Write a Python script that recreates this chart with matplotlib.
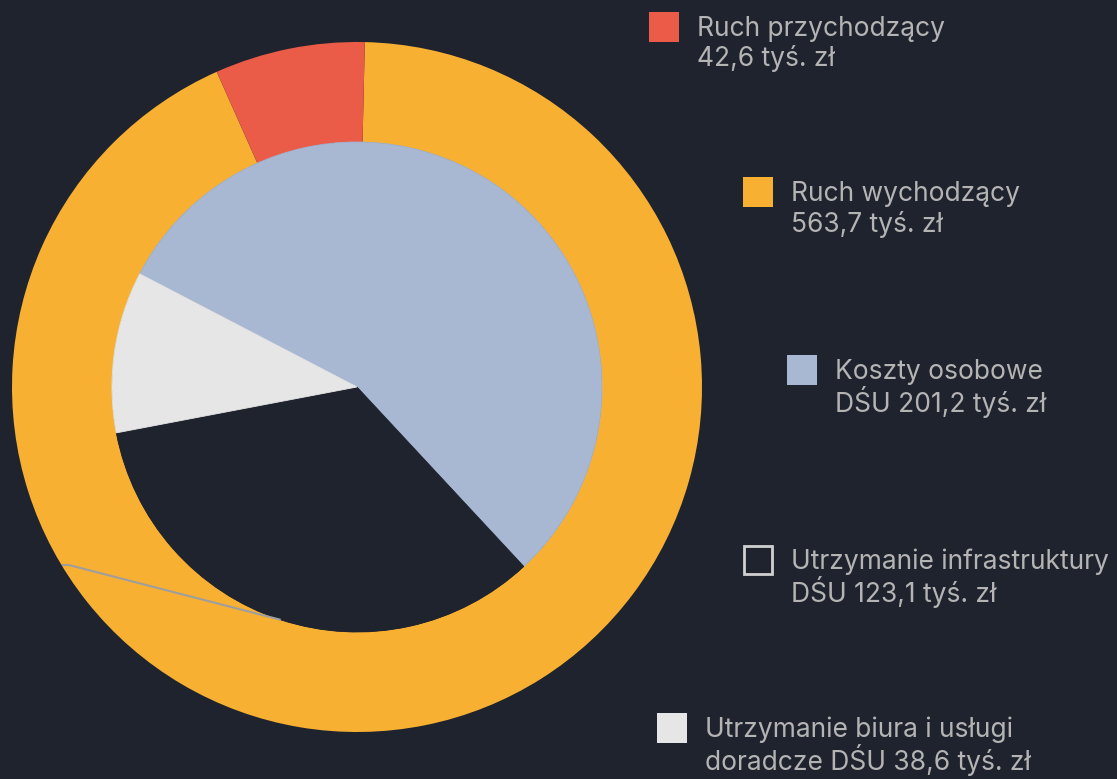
import numpy as np
import matplotlib.pyplot as plt
from matplotlib.patches import Rectangle

# dane
outer_labels = ["Ruch przychodzący", "Ruch wychodzący"]
outer_values = [42.6, 563.7]
inner_labels = ["Koszty osobowe DŚU", "Utrzymanie infrastruktury DŚU", "Utrzymanie biura i usługi doradcze DŚU"]
inner_values = [201.2, 123.1, 38.6]

legend_lines = [
    ("Ruch przychodzący", "42,6 tyś. zł"),
    ("Ruch wychodzący", "563,7 tyś. zł"),
    ("Koszty osobowe", "DŚU 201,2 tyś. zł"),
    ("Utrzymanie infrastruktury", "DŚU 123,1 tyś. zł"),
    ("Utrzymanie biura i usługi", "doradcze DŚU 38,6 tyś. zł"),
]

bg = "#1f232e"
red, orange, blue, grey = "#ea5b48", "#f7b032", "#a8b8d3", "#e6e6e6"
txt = "#b4b4b4"

plt.rcParams['font.family'] = ['Inter', 'DejaVu Sans']

W, H = 1117, 779
fig = plt.figure(figsize=(W / 100, H / 100), dpi=100, facecolor=bg)
# os kołowa: srodek (357, 387) px, promien 345 px
cx, cy, R = 357, 387, 345
ax = fig.add_axes([(cx - R) / W, (H - cy - R) / H, 2 * R / W, 2 * R / H])
ax.set_facecolor(bg)

r_in = 245 / 345

# pierścień zewnętrzny (zgodnie z ruchem wskazówek)
ax.pie(outer_values[::-1], colors=[orange, red], radius=1, startangle=88.7,
       counterclock=False, wedgeprops=dict(width=1 - r_in, linewidth=0))

# koło wewnętrzne
wedges, _ = ax.pie(inner_values, colors=[blue, bg, grey], radius=r_in,
                   startangle=152.5, counterclock=False,
                   wedgeprops=dict(linewidth=0.6))
for w in wedges:
    w.set_edgecolor(w.get_facecolor())

# linia etykiety (ukryta etykieta) dla "Utrzymanie infrastruktury"
w = wedges[1]
mid = np.deg2rad((w.theta1 + w.theta2) / 2)
x0, y0 = r_in * np.cos(mid), r_in * np.sin(mid)
ax.plot([x0, -0.835, -0.855], [y0, -0.516, -0.516], color="#9e9e9e",
        lw=1.5, solid_capstyle='butt')

ax.set_xlim(-1, 1)
ax.set_ylim(-1, 1)
ax.set_aspect('equal')
ax.axis('off')

# legenda
leg_colors = [red, orange, blue, None, grey]
leg_pos = [(649, 12), (743, 177), (787, 355), (743, 545), (657, 713)]
for (l1, l2), c, (px, py) in zip(legend_lines, leg_colors, leg_pos):
    s = 30
    if c is None:
        rect = Rectangle((px + 1, H - py - s + 1), s - 2, s - 2, transform=None,
                         facecolor=bg, edgecolor="#d0d0d0", lw=2)
    else:
        rect = Rectangle((px, H - py - s), s, s, transform=None,
                         facecolor=c, edgecolor='none')
    fig.patches.append(rect)
    tx = px + 48
    fig.text(tx / W, 1 - (py + 17) / H, l1, color=txt, fontsize=19,
             va='center', ha='left')
    fig.text(tx / W, 1 - (py + 47) / H, l2, color=txt, fontsize=19,
             va='center', ha='left')

fig.savefig("out.png", dpi=100, facecolor=bg)
